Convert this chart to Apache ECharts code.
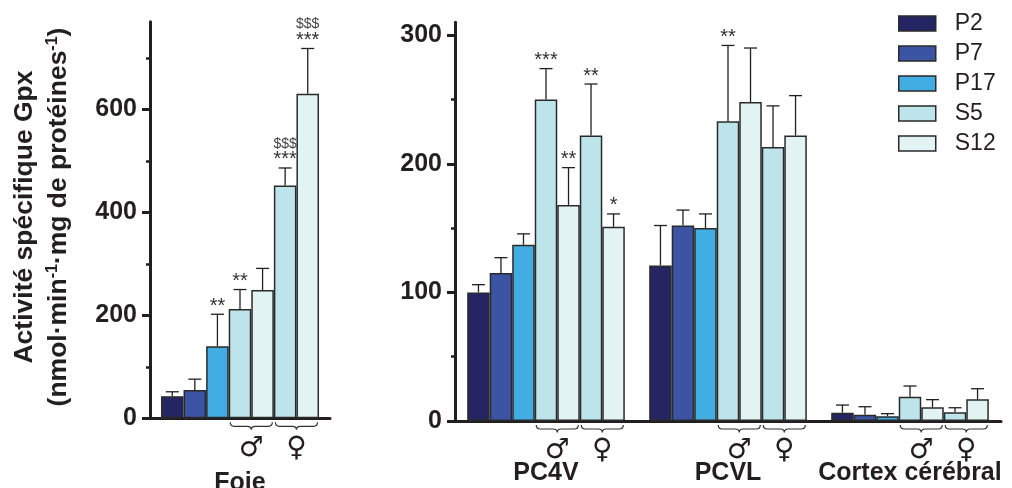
<!DOCTYPE html>
<html>
<head>
<meta charset="utf-8">
<script src="https://cdn.jsdelivr.net/npm/echarts@6/dist/echarts.min.js"></script>
<style>html,body{margin:0;padding:0;background:#fff}#c{width:1012px;height:488px}</style>
</head>
<body>
<div id="c"></div>
<script>
// ---------- data ----------
const leftGroups = ['Foie'];
const rightGroups = ['PC4V', 'PCVL', 'Cortex cérébral'];
const barNames = ['P2', 'P7', 'P17', 'S5', 'S12', 'S5', 'S12'];
const legendNames = ['P2', 'P7', 'P17', 'S5', 'S12'];

const foieMean = [43, 55, 140, 212, 249, 452, 630];
const foieErr  = [8.5, 21, 62, 38, 42, 34, 88];
const pc4vMean = [100, 115, 137, 250, 168, 222, 151];
const pc4vErr  = [6, 12, 8.5, 24, 29, 40, 10];
const pcvlMean = [121, 152, 150, 233, 248, 213, 222];
const pcvlErr  = [31, 12, 11, 59, 42, 32, 31];
const cortexMean = [6.4, 4.9, 3.7, 18.9, 10.6, 6.8, 16.9];
const cortexErr  = [6, 6.2, 2, 8.3, 6, 3.5, 8.2];

const foieStars   = ['', '', '**', '**', '', '***', '***'];
const foieDollars = ['', '', '', '', '', '$$$', '$$$'];
const pc4vStars   = ['', '', '', '***', '**', '**', '*'];
const pcvlStars   = ['', '', '', '**', '', '', ''];
const cortexStars = ['', '', '', '', '', '', ''];

const leftTicksMajor = [0, 200, 400, 600];
const leftTicksMinor = [100, 300, 500, 700];
const rightTicksMajor = [0, 100, 200, 300];
const rightTicksMinor = [50, 150, 250];
const leftMax = 770, rightMax = 310;

// ---------- styles ----------
const colors = ['#252563', '#3b54a3', '#42ade2', '#bde4ea', '#e2f3f3', '#bde4ea', '#e2f3f3'];
const ink = '#231f20';
const FONT = '"Liberation Sans", Arial, sans-serif';
const GAP_L = 0.122, GAP_R = 0.134;

const chart = echarts.init(document.getElementById('c'), null, {renderer: 'canvas'});

function yAxes(grid, max, major, minor) {
  return [
    {type: 'value', gridIndex: grid, min: 0, max: max, position: 'left',
     axisLine: {show: true, lineStyle: {color: ink, width: 3}},
     axisTick: {show: true, length: 8, customValues: major, lineStyle: {color: ink, width: 3}},
     axisLabel: {show: true, customValues: major, margin: 13, fontSize: 25, fontWeight: 'bold', color: ink, fontFamily: FONT},
     splitLine: {show: false}},
    {type: 'value', gridIndex: grid, min: 0, max: max, position: 'left',
     axisLine: {show: false},
     axisTick: {show: true, length: 4, customValues: minor, lineStyle: {color: ink, width: 2.5}},
     axisLabel: {show: false},
     splitLine: {show: false}}
  ];
}

const series = [];
for (let k = 0; k < 7; k++) {
  const common = {type: 'bar', name: barNames[k], barGap: '0%',
    itemStyle: {color: colors[k], borderColor: '#2a2a2a', borderWidth: 1.5},
    emphasis: {disabled: true}};
  series.push(Object.assign({}, common, {xAxisIndex: 0, yAxisIndex: 0, barCategoryGap: (GAP_L * 100) + '%', data: [foieMean[k]]}));
  series.push(Object.assign({}, common, {xAxisIndex: 1, yAxisIndex: 2, barCategoryGap: (GAP_R * 100) + '%',
    data: [pc4vMean[k], pcvlMean[k], cortexMean[k]]}));
}

function errSeries(xi, yi, gap, data, stars, dollars) {
  return {
    type: 'custom', xAxisIndex: xi, yAxisIndex: yi, z: 5, clip: false, silent: true,
    data: data,
    renderItem: function (params, api) {
      const cat = api.value(0), k = api.value(1), m = api.value(2), e = api.value(3);
      const c = api.coord([cat, 0]);
      const band = api.size([1, 0])[0];
      const bw = band * (1 - gap) / 7;
      const x = c[0] + (k - 3) * bw;
      const y0 = api.coord([cat, m])[1];
      const y1 = api.coord([cat, m + e])[1];
      const ch = [
        {type: 'line', shape: {x1: x, y1: y0, x2: x, y2: y1}, style: {stroke: ink, lineWidth: 1.3}},
        {type: 'line', shape: {x1: x - 6.5, y1: y1, x2: x + 6.5, y2: y1}, style: {stroke: ink, lineWidth: 1.3}}
      ];
      const s = stars[params.dataIndex];
      if (s) ch.push({type: 'text', x: x, y: y1 + 2, style: {text: s, fill: '#333', fontSize: 20, fontFamily: FONT, align: 'center', verticalAlign: 'bottom'}});
      const d = dollars ? dollars[params.dataIndex] : '';
      if (d) ch.push({type: 'text', x: x, y: y1 - 17, style: {text: d, fill: '#444', fontSize: 14, fontFamily: '"Liberation Sans Narrow", "Liberation Sans", Arial', align: 'center', verticalAlign: 'bottom'}});
      return {type: 'group', children: ch};
    }
  };
}

function braceSeries(xi, yi, gap, data) {
  return {
    type: 'custom', xAxisIndex: xi, yAxisIndex: yi, z: 5, clip: false, silent: true,
    data: data,
    renderItem: function (params, api) {
      const cat = api.value(0), s = api.value(1);
      const c = api.coord([cat, 0]);
      const band = api.size([1, 0])[0];
      const bw = band * (1 - gap) / 7;
      const xa = c[0] + (s - 3.5) * bw + 1.5;
      const xb = c[0] + (s - 1.5) * bw - 1.5;
      const xm = (xa + xb) / 2;
      const ya = c[1] + 4, yl = c[1] + 8, yn = c[1] + 11.5, r = 4;
      const p = 'M' + xa + ' ' + ya + ' Q' + xa + ' ' + yl + ' ' + (xa + r) + ' ' + yl +
        ' L' + (xm - r) + ' ' + yl + ' Q' + xm + ' ' + yl + ' ' + xm + ' ' + yn +
        ' Q' + xm + ' ' + yl + ' ' + (xm + r) + ' ' + yl +
        ' L' + (xb - r) + ' ' + yl + ' Q' + xb + ' ' + yl + ' ' + xb + ' ' + ya;
      const sym = s === 3 ? '\u2642' : '\u2640';
      return {type: 'group', children: [
        {type: 'path', shape: {pathData: p}, style: {stroke: '#333', lineWidth: 1.2, fill: null}},
        {type: 'text', x: xm, y: c[1] + 30, style: {text: sym, fill: ink, fontSize: 28, fontWeight: 'bold', fontFamily: '"DejaVu Sans"', align: 'center', verticalAlign: 'middle'}}
      ]};
    }
  };
}

const foieErrData = foieMean.map((m, k) => [0, k, m, foieErr[k]]);
const rightErrData = [];
const rightStars = [];
[[pc4vMean, pc4vErr, pc4vStars], [pcvlMean, pcvlErr, pcvlStars], [cortexMean, cortexErr, cortexStars]].forEach((g, ci) => {
  g[0].forEach((m, k) => { rightErrData.push([ci, k, m, g[1][k]]); rightStars.push(g[2][k]); });
});

series.push(errSeries(0, 0, GAP_L, foieErrData, foieStars, foieDollars));
series.push(errSeries(1, 2, GAP_R, rightErrData, rightStars, null));
series.push(braceSeries(0, 0, GAP_L, [[0, 3], [0, 5]]));
series.push(braceSeries(1, 2, GAP_R, [[0, 3], [0, 5], [1, 3], [1, 5], [2, 3], [2, 5]]));

const option = {
  animation: false,
  backgroundColor: '#fff',
  grid: [
    {left: 150, width: 180, top: 21.7, bottom: 69.7, containLabel: false, outerBoundsMode: 'none'},
    {left: 455, right: 11, top: 22.3, bottom: 67, containLabel: false, outerBoundsMode: 'none'}
  ],
  xAxis: [
    {type: 'category', gridIndex: 0, data: leftGroups,
     axisLine: {lineStyle: {color: ink, width: 3}}, axisTick: {show: false},
     axisLabel: {margin: 52, fontSize: 25, fontWeight: 'bold', color: ink, fontFamily: FONT, interval: 0}},
    {type: 'category', gridIndex: 1, data: rightGroups,
     axisLine: {lineStyle: {color: ink, width: 3}}, axisTick: {show: false},
     axisLabel: {margin: 40, fontSize: 25, fontWeight: 'bold', color: ink, fontFamily: FONT, interval: 0}}
  ],
  yAxis: [].concat(
    yAxes(0, leftMax, leftTicksMajor, leftTicksMinor),
    yAxes(1, rightMax, rightTicksMajor, rightTicksMinor)
  ),
  legend: {
    data: legendNames, orient: 'vertical', left: 898, top: 12, padding: 0,
    itemWidth: 37, itemHeight: 15, itemGap: 7, icon: 'rect',
    itemStyle: {borderColor: '#2a2a2a', borderWidth: 1.5},
    textStyle: {fontSize: 23, color: ink, fontFamily: FONT, padding: [0, 0, 0, 14], lineHeight: 21},
    selectedMode: false
  },
  graphic: [{
    type: 'text', x: 42, y: 217, rotation: Math.PI / 2,
    style: {
      text: '{b|Activité spécifique Gpx}\n{b|(nmol·min}{s|-1}{b|·mg de protéines}{s|-1}{b|)}',
      align: 'center', verticalAlign: 'middle', fill: ink,
      rich: {
        b: {fontSize: 26.5, fontWeight: 'bold', fontFamily: FONT, lineHeight: 34, fill: ink},
        s: {fontSize: 16, fontWeight: 'bold', fontFamily: FONT, lineHeight: 34, verticalAlign: 'top', fill: ink, padding: [3, 0, 0, 0]}
      }
    }
  }],
  series: series
};
chart.setOption(option);
</script>
</body>
</html>
